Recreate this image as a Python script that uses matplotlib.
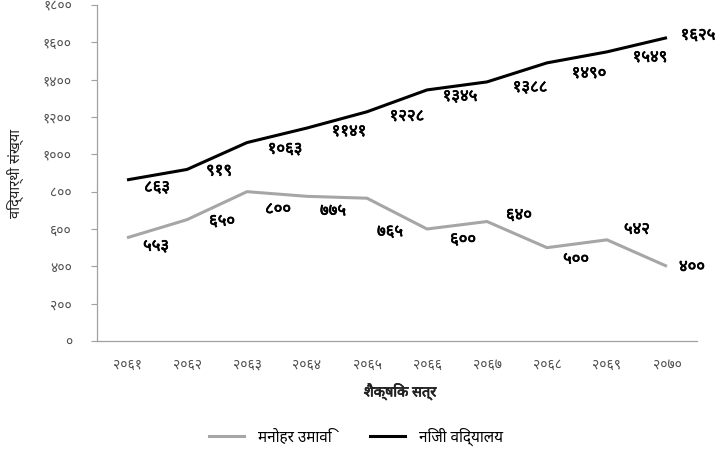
import matplotlib
matplotlib.use("Agg")
import matplotlib.pyplot as plt
import matplotlib.patheffects as pe
from matplotlib.lines import Line2D

# ---------------- data ----------------
years = ["२०६१", "२०६२", "२०६३", "२०६४", "२०६५", "२०६६", "२०६७", "२०६८", "२०६९", "२०७०"]
manohar = [553, 650, 800, 775, 765, 600, 640, 500, 542, 400]
niji = [863, 919, 1063, 1141, 1228, 1345, 1388, 1490, 1549, 1625]
yticks = [0, 200, 400, 600, 800, 1000, 1200, 1400, 1600, 1800]
ylabel = "विद्यार्थी संख्या"
xlabel = "शैक्षिक सत्र"
name_manohar = "मनोहर उमावि"
name_niji = "निजी विद्यालय"

# label offsets (pixels, label centre minus point, image coords: +y downward)
off_niji = [(30, 8), (32, 2), (38, 7), (42, 4), (40, 5), (33, 7), (43, 6), (42, 11), (43, 6), (31, -2)]
off_manohar = [(29, 9), (35, 2), (31, 18), (26, 15), (23, 34), (36, 11), (32, -6), (29, 12), (30, -10), (25, 1)]

DEV_DIGITS = str.maketrans("0123456789", "०१२३४५६७८९")


def to_dev(n):
    return str(n).translate(DEV_DIGITS)


plt.rcParams["font.family"] = ["Noto Sans Devanagari", "DejaVu Sans"]
bold_fx = [pe.withStroke(linewidth=0.5, foreground="black")]

# ---------------- figure ----------------
W, H, DPI = 723, 453, 100
fig = plt.figure(figsize=(W / DPI, H / DPI), dpi=DPI)
ax = fig.add_axes([97 / W, 1 - 341 / H, 600 / W, 336 / H])

x = list(range(len(years)))
ax.plot(x, manohar, color="#a6a6a6", lw=2.2, solid_capstyle="butt")
ax.plot(x, niji, color="#000000", lw=2.2, solid_capstyle="butt")

for xi, v, (dx, dy) in zip(x, niji, off_niji):
    ax.annotate(to_dev(v), (xi, v), xytext=(dx, -dy), textcoords="offset pixels",
                ha="center", va="center", fontsize=12, color="black", path_effects=bold_fx)
for xi, v, (dx, dy) in zip(x, manohar, off_manohar):
    ax.annotate(to_dev(v), (xi, v), xytext=(dx, -dy), textcoords="offset pixels",
                ha="center", va="center", fontsize=12, color="black", path_effects=bold_fx)

ax.set_xlim(-0.5, len(years) - 0.5)
ax.set_ylim(0, 1800)
ax.set_yticks(yticks)
ax.set_yticklabels([to_dev(t) for t in yticks], fontsize=10, color="#505050")
ax.set_xticks(x)
ax.set_xticklabels(years, fontsize=10, color="#505050")
ax.tick_params(axis="x", length=0, pad=12)
ax.tick_params(axis="y", length=4, width=0.8, color="#a0a0a0", pad=14)

for s in ["top", "right"]:
    ax.spines[s].set_visible(False)
for s in ["left", "bottom"]:
    ax.spines[s].set_color("#a0a0a0")
    ax.spines[s].set_linewidth(0.9)

fig.text(15 / W, 1 - 173 / H, ylabel, rotation=90, ha="center", va="center",
         fontsize=10.5, color="#222222")
fig.text(400 / W, 1 - 392 / H, xlabel, ha="center", va="center",
         fontsize=10.5, color="#222222",
         path_effects=[pe.withStroke(linewidth=0.5, foreground="#222222")])

handles = [Line2D([], [], color="#a6a6a6", lw=2.2), Line2D([], [], color="black", lw=2.2)]
fig.legend(handles, [name_manohar, name_niji], loc="center", ncol=2,
           bbox_to_anchor=(356 / W, 1 - 437 / H), frameon=False, fontsize=11,
           handlelength=2.3, columnspacing=2.5, handletextpad=0.9)

fig.savefig("out.png", dpi=DPI)
